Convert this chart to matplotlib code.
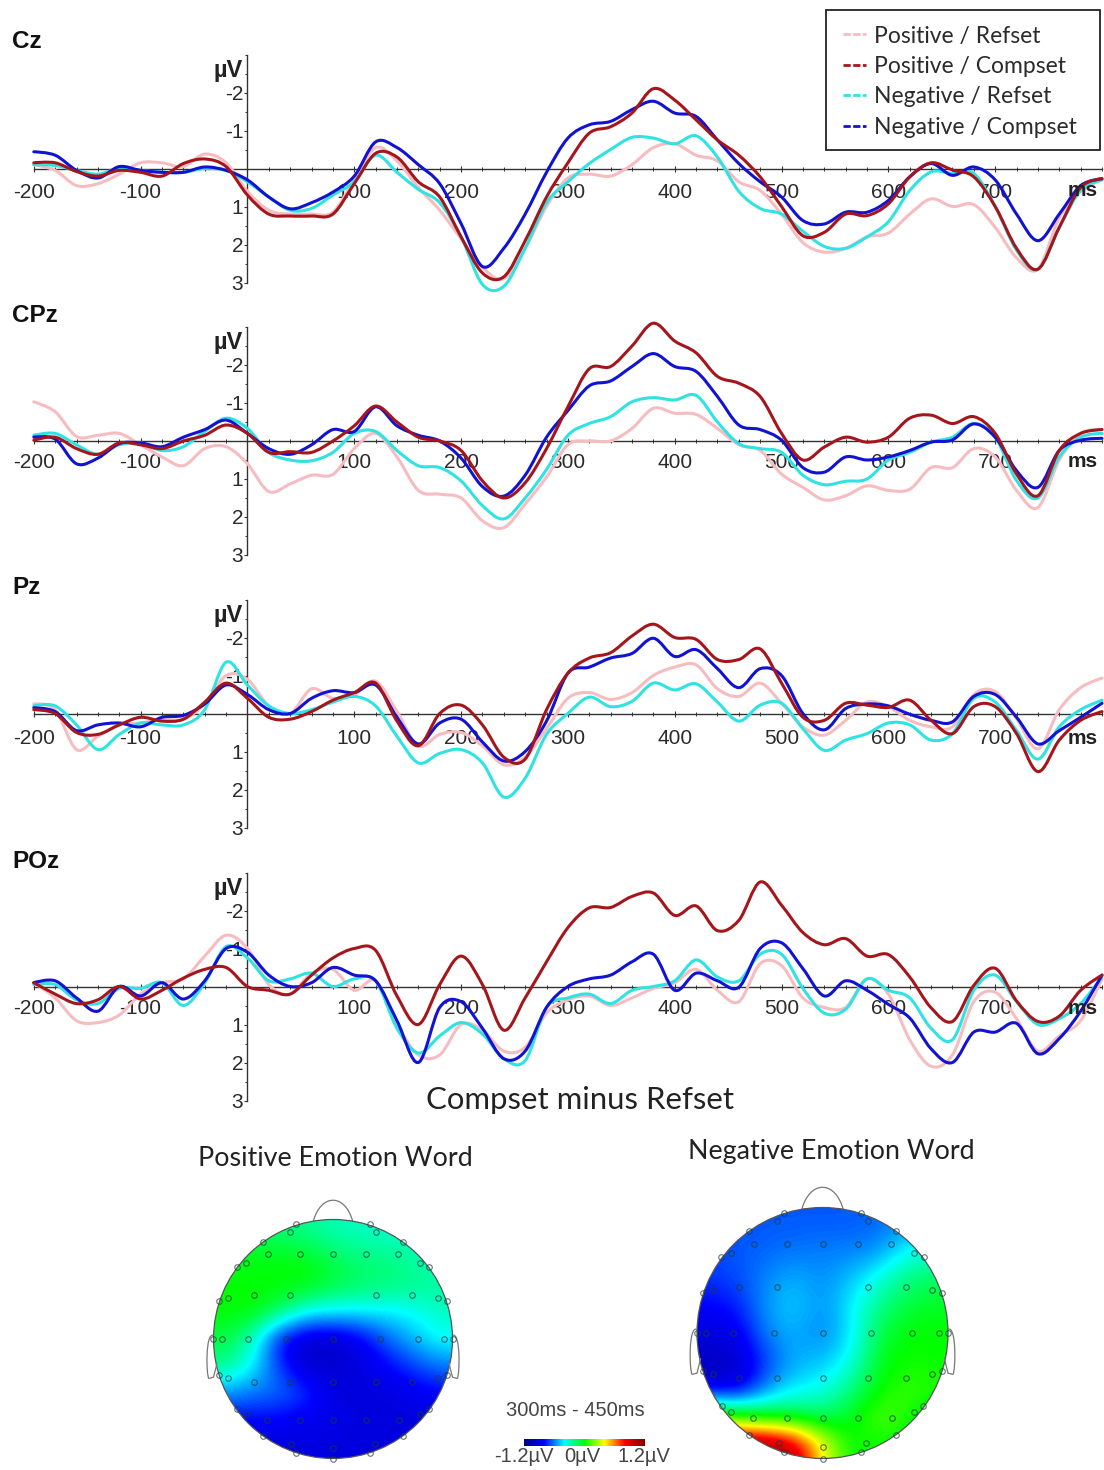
import numpy as np
import matplotlib
matplotlib.use("Agg")
import matplotlib.pyplot as plt
from matplotlib.lines import Line2D
from matplotlib.colors import LinearSegmentedColormap
from matplotlib.patches import Circle, PathPatch, Rectangle
from matplotlib.path import Path

plt.rcParams['font.family'] = ['Liberation Sans', 'DejaVu Sans']

W, H = 1104, 1470
times = list(range(-200, 801, 20))

# ---- ERP amplitudes (microvolts, negative up) sampled every 20 ms
cz_pr = [-.1,.05,.45,.4,.15,-.15,-.15,-.05,-.38,-.15,.6,1.1,1.2,1.2,1.15,.3,-.55,-.2,.5,1.1,1.85,2.6,2.9,2.1,1.0,.25,.15,.2,-.1,-.55,-.65,-.35,-.2,.35,.58,1.2,1.95,2.2,2.1,1.8,1.7,1.2,.8,1.0,.95,1.55,2.35,2.65,1.3,.6,.3]
cz_pc = [-.15,-.15,.08,.2,.05,.1,.2,-.13,-.25,-.05,.7,1.2,1.25,1.25,1.2,.4,-.4,-.3,.35,.75,1.8,2.75,2.85,1.9,.75,-.15,-.93,-1.1,-1.46,-2.1,-1.8,-1.28,-.75,-.35,.22,1.0,1.77,1.68,1.2,1.24,.93,.22,-.15,.04,.22,1.0,2.1,2.65,1.55,.5,.27]
cz_nr = [-.1,-.08,.05,.15,0,.05,.1,.1,0,.05,.35,.75,1.1,1.05,.7,.35,-.35,.1,.55,.9,1.8,3.05,3.1,2.1,.9,.35,-.13,-.5,-.82,-.8,-.65,-.86,-.3,.6,1.05,1.2,1.65,2.05,2.1,1.8,1.4,.58,.09,.13,.13,1.0,2.15,2.65,1.55,.58,.3]
cz_nc = [-.44,-.35,.05,.25,-.05,.05,.1,.1,-.04,.05,.3,.75,1.06,.9,.62,.2,-.7,-.55,-.1,.4,1.45,2.58,2.1,1.2,.1,-.8,-1.15,-1.24,-1.55,-1.77,-1.46,-1.37,-.75,-.13,.35,.75,1.37,1.46,1.15,1.15,.84,.22,-.13,.18,-.04,.3,1.2,1.9,1.2,.45,.27]

cpz_pr = [-1.03,-.77,-.12,-.15,-.2,.1,.42,.65,.2,.15,.6,1.33,1.13,.9,.88,.2,-.2,.42,1.3,1.4,1.5,2.1,2.28,1.66,.95,.1,0,0,-.33,-.86,-.73,-.7,-.33,.1,.25,.87,1.22,1.55,1.44,1.18,1.3,1.27,.7,.7,.2,.42,1.3,1.75,.5,-.2,-.3]
cpz_pc = [-.02,-.1,.2,.35,.05,.1,.2,0,-.15,-.42,-.2,.3,.28,.3,0,-.4,-.92,-.5,-.1,0,.25,1.05,1.5,1.1,.2,-.9,-1.9,-1.96,-2.5,-3.1,-2.63,-2.32,-1.7,-1.52,-1.17,-.2,.5,.16,-.1,.03,-.1,-.6,-.68,-.46,-.64,-.2,.87,1.44,.25,-.2,-.3]
cpz_nr = [-.15,-.2,.1,.35,.1,.05,.25,.15,-.25,-.6,-.33,.3,.5,.52,.3,-.2,-.25,.25,.65,.7,1.05,1.7,2.05,1.5,.75,-.15,-.46,-.64,-1.03,-1.14,-1.08,-1.2,-.5,.07,.2,.3,.9,1.15,1.06,1.0,.5,.3,.03,-.1,-.46,-.1,1.04,1.5,.42,-.1,-.2]
cpz_nc = [-.1,-.05,.6,.45,.07,.05,.15,-.1,-.3,-.55,-.2,.2,.35,.1,-.3,-.25,-.9,-.4,-.15,0,.45,1.2,1.45,.9,-.1,-.8,-1.45,-1.58,-1.96,-2.3,-1.96,-1.83,-1.17,-.42,-.3,-.02,.7,.82,.42,.5,.42,.25,.03,-.03,-.45,-.1,.78,1.22,.25,-.02,-.07]

pz_pr = [-.25,-.1,.95,.6,.3,.25,.15,.15,-.25,-1.0,-.9,-.2,0,-.65,-.4,-.5,-.85,-.05,.85,.55,.5,.85,1.35,1.15,.4,-.4,-.55,-.37,-.55,-1.0,-1.22,-1.28,-.65,-.45,-.8,-.27,.35,.57,.18,-.3,-.18,.18,.35,.35,-.5,-.58,.13,.93,-.1,-.68,-.93]
pz_pc = [-.1,0,.5,.55,.3,.1,.2,.15,-.3,-.8,-.4,.1,.15,-.05,-.35,-.55,-.8,.2,.85,0,-.22,.3,1.15,1.2,-.1,-1.06,-1.46,-1.6,-2.04,-2.35,-2.0,-1.95,-1.42,-1.42,-1.7,-.8,.1,.18,-.27,-.22,-.16,-.35,.18,.53,-.18,-.18,.53,1.53,.7,.18,-.05]
pz_nr = [-.2,-.2,.3,.95,.55,.25,.3,.3,-.1,-1.35,-.75,-.2,0,-.1,-.3,-.45,-.2,.6,1.3,1.05,.95,1.3,2.2,1.7,.55,0,-.43,-.18,-.32,-.8,-.62,-.78,-.3,.2,-.22,-.27,.4,.97,.7,.53,.25,.3,.7,.53,-.4,-.3,.45,1.2,.35,-.1,-.35]
pz_nc = [-.15,-.05,.45,.3,.25,.35,.1,.05,-.25,-.75,-.5,-.1,0,-.4,-.6,-.55,-.75,.1,.8,.25,.15,.75,1.25,1.0,.2,-1.06,-1.22,-1.46,-1.58,-1.98,-1.5,-1.68,-1.18,-.68,-1.18,-1.0,0,.43,-.13,-.25,-.2,.02,.18,.22,-.45,-.5,.1,.8,.45,.1,-.27]

poz_pr = [-.1,.3,.9,.95,.75,.2,-.1,-.2,-.8,-1.35,-1.0,-.05,.2,-.35,-.45,.1,-.15,1.0,1.8,1.8,1.0,1.15,1.7,1.6,.7,.35,.25,.5,.3,.05,-.1,-.45,.1,.4,-.6,-.55,.3,.55,.55,-.2,.2,1.4,2.1,1.8,.4,.15,.85,1.7,1.3,.9,-.2]
poz_pc = [-.1,.2,.45,.35,0,.33,.1,-.22,-.45,-.5,0,.1,.2,-.3,-.75,-1.0,-.95,.25,1.0,-.05,-.8,-.05,1.15,.3,-.65,-1.55,-2.07,-2.08,-2.37,-2.46,-1.87,-2.12,-1.47,-1.74,-2.75,-2.14,-1.42,-1.1,-1.26,-.8,-.84,-.25,.56,.92,-.03,-.48,.38,.92,.78,.1,-.3]
poz_nr = [-.05,-.05,.35,.45,.05,.05,-.1,.5,-.1,-1.05,-.75,-.15,-.2,-.35,0,-.2,-.15,1.1,1.75,1.3,.95,1.25,1.9,1.95,.55,.3,.2,.45,.1,0,-.15,-.7,-.25,-.15,-.85,-.85,.05,.7,.6,-.2,.1,.3,1.1,1.4,.1,-.3,.4,1.0,.85,.45,-.25]
poz_nc = [-.1,-.15,.3,.65,0,.25,-.1,.33,-.15,-1.0,-.9,-.3,0,-.1,-.5,-.3,-.15,.9,2.0,.55,.4,1.1,1.9,1.7,.55,0,-.2,-.3,-.65,-.85,.1,-.35,-.15,.02,-1.0,-1.15,-.47,.25,-.15,.1,.47,.83,1.64,2.0,1.2,1.2,.97,1.77,1.37,.65,-.3]

channels = ["Cz", "CPz", "Pz", "POz"]
series_names = ["Positive / Refset", "Positive / Compset", "Negative / Refset", "Negative / Compset"]
channel_values = [
    [cz_pr, cz_pc, cz_nr, cz_nc],
    [cpz_pr, cpz_pc, cpz_nr, cpz_nc],
    [pz_pr, pz_pc, pz_nr, pz_nc],
    [poz_pr, poz_pc, poz_nr, poz_nc],
]
x_tick_values = [-200, -100, 100, 200, 300, 400, 500, 600, 700]
y_tick_values = [-2, -1, 1, 2, 3]

# ---- scalp maps: coarse potential grids, rows top to bottom, columns left to right
pos_map = [
    [-.15,-.15,-.18,-.22,-.28,-.3,-.32,-.32,-.32],
    [-.05,-.03,-.02,-.03,-.12,-.18,-.2,-.25,-.3],
    [0,0,0,0,-.08,-.15,-.18,-.2,-.25],
    [0,0,-.15,-.38,-.42,-.42,-.42,-.4,-.3],
    [-.1,-.3,-.8,-.95,-.95,-.85,-.65,-.5,-.38],
    [-.2,-.4,-.72,-.95,-.95,-.9,-.8,-.7,-.6],
    [-.55,-.6,-.62,-.7,-.9,-.9,-.9,-.85,-.8],
    [-.8,-.8,-.8,-.85,-.85,-.9,-.9,-.9,-.9],
    [-.9,-.9,-.9,-.9,-.9,-.9,-.9,-.9,-.9],
]
neg_map = [
    [-.68,-.68,-.66,-.66,-.66,-.66,-.64,-.58,-.55],
    [-.68,-.66,-.64,-.62,-.6,-.6,-.58,-.4,-.35],
    [-.72,-.68,-.58,-.52,-.58,-.5,-.36,-.2,-.15],
    [-.8,-.75,-.55,-.46,-.58,-.42,-.22,-.1,-.05],
    [-.9,-.85,-.58,-.52,-.6,-.45,-.12,0,0],
    [-1.0,-.95,-.7,-.52,-.5,-.38,-.05,.02,0],
    [-.9,-.9,-.58,-.42,-.38,-.2,-.02,.1,.05],
    [.2,.05,-.05,-.1,-.15,-.05,.15,.05,-.1],
    [1.2,1.2,1.2,1.0,.4,0,0,0,-.1],
]
elec_x = [-.306,.306,-.36,.36,-.587,.587,-.548,-.28,0,.28,.548,-.727,.727,-.806,.806,-.665,-.36,.36,.665,-.876,.876,-.952,.952,
          -1,-.93,-.71,-.39,0,.39,.71,.93,1,-.665,-.36,0,.36,.665,-.876,.876,-.95,.95,-.55,-.28,0,.28,.55,-.8,.8,-.73,.73,
          -.587,.587,-.35,.35,0,-.306,.306,0]
elec_y = [.96,.96,.896,.896,.815,.815,.708,.708,.708,.708,.708,.638,.638,.604,.604,.37,.37,.37,.37,.343,.343,.315,.315,
          0,0,0,0,0,0,0,0,0,-.36,-.36,-.36,-.36,-.36,-.33,-.33,-.3,-.3,-.68,-.68,-.68,-.68,-.68,-.585,-.585,-.63,-.63,
          -.81,-.81,-.88,-.88,-.91,-.95,-.95,-1]

colors = ["#f7bcc0", "#a5161c", "#2fe3e3", "#1212d2"]
draw_order = [0, 2, 3, 1]
zero_px = [168.5, 441, 713.5, 986.5]
label_drop = [13.5, 11.5, 14.5, 11.5]
ms_drop = [22.5, 20.5, 24.5, 21.5]
px_per_uv = 38.0
title_px = [41, 316, 587, 861]
x_left, x_right = 33.8, 1102.0


def rect(l, t, r, b):
    return [l / W, 1 - b / H, (r - l) / W, (b - t) / H]


def smooth_curve(xs, ys):
    """Bezier path through every read value (display smoothing of the trace)."""
    p = np.column_stack([xs, ys]).astype(float)
    d = np.zeros_like(p)
    d[1:-1] = (p[2:] - p[:-2]) / 6.0
    verts = [p[0]]
    codes = [Path.MOVETO]
    for a in range(len(p) - 1):
        verts += [p[a] + d[a], p[a + 1] - d[a + 1], p[a + 1]]
        codes += [Path.CURVE4] * 3
    return Path(verts, codes)


fig = plt.figure(figsize=(W / 100, H / 100), dpi=100, facecolor="white")
for k, ch in enumerate(channels):
    z = zero_px[k]
    ymax = 3.0
    ax = fig.add_axes(rect(x_left, z - ymax * px_per_uv, x_right, z + ymax * px_per_uv))
    ax.patch.set_alpha(0)
    for i in draw_order:
        ax.add_patch(PathPatch(smooth_curve(times, channel_values[k][i]), fill=False, ec=colors[i], lw=2.2,
                               joinstyle="round", capstyle="round", clip_on=False,
                               zorder=3 + draw_order.index(i)))
    ax.set_xlim(-200, 800)
    ax.set_ylim(ymax, -ymax)
    for s in ["top", "right"]:
        ax.spines[s].set_visible(False)
    ax.spines["left"].set_position(("data", 0))
    ax.spines["bottom"].set_position(("data", 0))
    for s in ["left", "bottom"]:
        ax.spines[s].set_color("#333333")
        ax.spines[s].set_linewidth(1.0)
        ax.spines[s].set_zorder(2)
    ax.set_xticks(x_tick_values, [str(v) for v in x_tick_values])
    ax.set_xticks(range(-200, 801, 20), minor=True)
    ax.set_yticks(y_tick_values, [str(v) for v in y_tick_values])
    ax.set_yticks([-3, -2.5, -1.5, -.5, .5, 1.5, 2.5], minor=True)
    ax.tick_params(axis="x", which="major", direction="inout", length=5, width=.8, color="#333333",
                   pad=label_drop[k] * .72 - 1.8, labelsize=15, labelcolor="#2a2a2a")
    ax.tick_params(axis="x", which="minor", direction="inout", length=3, width=.7, color="#333333")
    ax.tick_params(axis="y", which="major", direction="out", length=2.5, width=.8, color="#333333",
                   pad=0.5, labelsize=15, labelcolor="#2a2a2a")
    ax.tick_params(axis="y", which="minor", direction="out", length=1.5, width=.7, color="#333333")
    ax.text(-4, -2.58, "µV", fontsize=17, fontweight="bold", ha="right", va="center", color="#222222")
    ax.text(782, ms_drop[k] / px_per_uv, "ms", fontsize=15, fontweight="bold", ha="center",
            va="center", color="#222222", zorder=8)
    fig.text(12 / W, 1 - title_px[k] / H, ch, fontsize=17.5, fontweight="bold", ha="left", va="center",
             color="#111111")

fig.add_artist(Rectangle((826 / W, 1 - 150 / H), 274 / W, 140 / H, transform=fig.transFigure,
                         fc="white", ec="#222222", lw=1.3, zorder=20))
handles = [Line2D([0], [0], color=c, lw=2.0, ls=(0, (2.6, .9))) for c in colors]
leg = fig.legend(handles, series_names, loc="upper left", bbox_to_anchor=(843 / W, 1 - 25.5 / H),
                 borderaxespad=0, borderpad=0, frameon=False,
                 prop={"family": "Lato", "size": 16.5}, labelcolor="#2b2b2b", handlelength=1.0,
                 handletextpad=.35, labelspacing=.41)
leg.set_zorder(21)

fig.text(580 / W, 1 - 1099.5 / H, "Compset minus Refset", fontsize=22.4, family="Lato", ha="center",
         va="center", color="#222222")
fig.text(335 / W, 1 - 1159 / H, "Positive Emotion Word", fontsize=19.4, family="Lato", ha="center",
         va="center", color="#222222")
fig.text(831 / W, 1 - 1151 / H, "Negative Emotion Word", fontsize=19.3, family="Lato", ha="center",
         va="center", color="#222222")

cmap = LinearSegmentedColormap.from_list(
    "topo", [(0, "#000080"), (1 / 6, "#0000ff"), (2 / 6, "#00ffff"), (.5, "#00ff00"),
             (4 / 6, "#ffff00"), (5 / 6, "#ff0000"), (1, "#800000")])


def head(cx, cy, R, grid):
    m = 1.25
    ax = fig.add_axes(rect(cx - m * R, cy - m * R, cx + m * R, cy + m * R))
    ax.axis("off")
    im = ax.imshow(grid, extent=(-1, 1, -1, 1), origin="upper", cmap=cmap, vmin=-1.2, vmax=1.2,
                   interpolation="bicubic", aspect="equal", zorder=1)
    ax.set_xlim(-m, m)
    ax.set_ylim(-m, m)
    im.set_clip_path(Circle((0, 0), 1.0, transform=ax.transData))
    ax.add_patch(Circle((0, 0), 1.0, fill=False, ec="#555555", lw=.9, zorder=2))
    nose = Path([(-.165, .985), (-.1, 1.22), (.1, 1.22), (.165, .985)],
                [Path.MOVETO, Path.CURVE4, Path.CURVE4, Path.CURVE4])
    ax.add_patch(PathPatch(nose, fill=False, ec="#777777", lw=.9))
    for sgn in (-1, 1):
        ear = Path([(sgn * 1.0, .03), (sgn * 1.07, .06), (sgn * 1.06, -.3), (sgn * 1.04, -.33),
                    (sgn * 1.0, -.32), (sgn * .97, -.2)],
                   [Path.MOVETO, Path.CURVE4, Path.CURVE4, Path.CURVE4, Path.LINETO, Path.LINETO])
        ax.add_patch(PathPatch(ear, fill=False, ec="#777777", lw=.9, zorder=2))
    ax.plot(elec_x, elec_y, ls="", marker="o", ms=4.0, mfc="none", mec="#1f3a3a", mew=.8, alpha=.7,
            clip_on=False, zorder=3)


head(333, 1339, 119.5, pos_map)
head(822.5, 1333, 125.5, neg_map)

cbar_values = np.linspace(-1.2, 1.2, 256).reshape(1, -1)
cax = fig.add_axes(rect(524, 1439, 645, 1446))
cax.imshow(cbar_values, cmap=cmap, vmin=-1.2, vmax=1.2, aspect="auto")
cax.axis("off")
fig.text(575 / W, 1 - 1410 / H, "300ms - 450ms", fontsize=14.5, ha="center", va="center", color="#444444")
for txt, xc in [("-1.2µV", 524), ("0µV", 582), ("1.2µV", 644)]:
    fig.text(xc / W, 1 - 1457 / H, txt, fontsize=14.5, ha="center", va="center", color="#444444")

fig.savefig("out.png", dpi=100, facecolor="white")
